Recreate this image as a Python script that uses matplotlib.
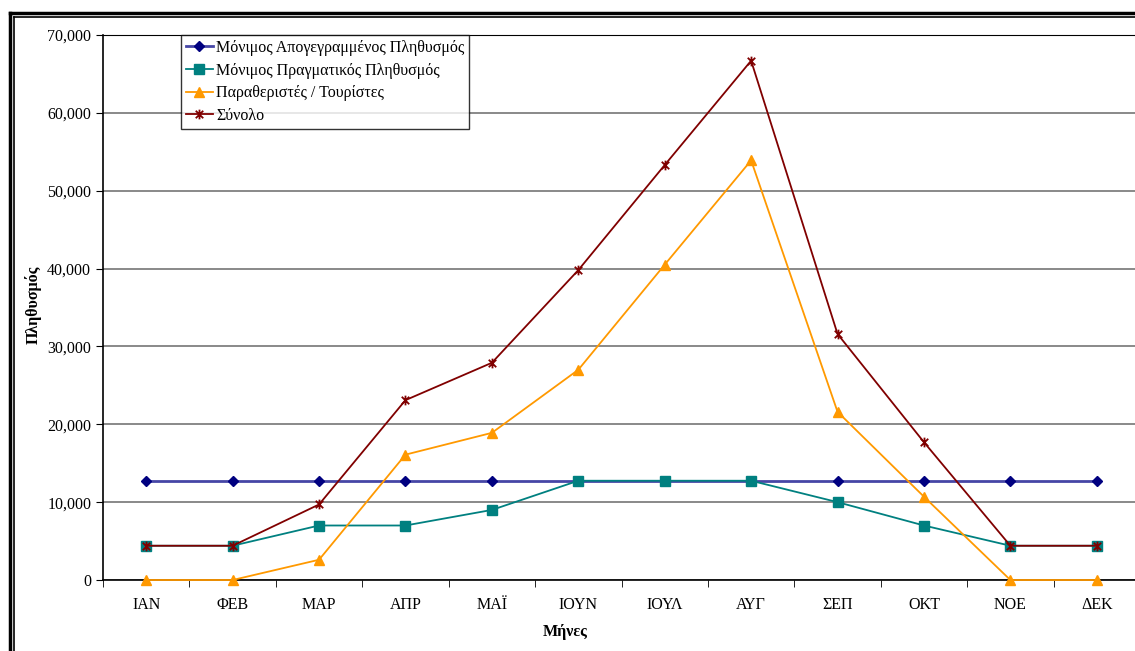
import numpy as np
import matplotlib
matplotlib.use('Agg')
import matplotlib.pyplot as plt
from matplotlib.path import Path
from matplotlib.lines import Line2D
from matplotlib.ticker import FuncFormatter, FixedLocator

plt.rcParams['font.family'] = ['Liberation Serif', 'DejaVu Serif']

# monthly population figures
months = ['ΙΑΝ', 'ΦΕΒ', 'ΜΑΡ', 'ΑΠΡ', 'ΜΑΪ', 'ΙΟΥΝ', 'ΙΟΥΛ', 'ΑΥΓ', 'ΣΕΠ', 'ΟΚΤ', 'ΝΟΕ', 'ΔΕΚ']
registered = [12750] * 12
actual = [4400, 4400, 7000, 7000, 9000, 12750, 12750, 12750, 10000, 7000, 4400, 4400]
visitors = [0, 0, 2600, 16100, 18900, 27000, 40500, 53900, 21600, 10700, 0, 0]
total = [4400, 4400, 9700, 23100, 27900, 39800, 53300, 66700, 31600, 17700, 4400, 4400]

names = ['Μόνιμος Απογεγραμμένος Πληθυσμός', 'Μόνιμος Πραγματικός Πληθυσμός',
         'Παραθεριστές / Τουρίστες', 'Σύνολο']

# Excel-style star: X with a vertical bar
star = Path([(-1, -1), (1, 1), (-1, 1), (1, -1), (0, -1.3), (0, 1.3)],
            [Path.MOVETO, Path.LINETO, Path.MOVETO, Path.LINETO, Path.MOVETO, Path.LINETO])

fig = plt.figure(figsize=(11.35, 6.51), dpi=100)
W, H = 1135, 651

# double frame around the chart
fig.add_artist(Line2D([10/W, 10/W], [0, 1-13/H], color='black', lw=2.5, transform=fig.transFigure))
fig.add_artist(Line2D([10/W, 1.01], [1-13/H, 1-13/H], color='black', lw=2.5, transform=fig.transFigure))
fig.add_artist(Line2D([14/W, 14/W], [0, 1-17/H], color='black', lw=1.2, transform=fig.transFigure))
fig.add_artist(Line2D([14/W, 1.01], [1-17/H, 1-17/H], color='black', lw=1.2, transform=fig.transFigure))

ax = fig.add_axes([103/W, (H-580)/H, (1140-103)/W, 545/H])
x = np.arange(len(months))

ax.plot(x, registered, color='#4646a6', lw=2, marker='D', ms=5.5,
        mfc='#000080', mec='#000080', label=names[0], zorder=3, clip_on=False)
ax.plot(x, actual, color='#008080', lw=1.3, marker='s', ms=6.5,
        mfc='#008080', mec='#008080', label=names[1], zorder=4, clip_on=False)
ax.plot(x, visitors, color='#FF9900', lw=1.3, marker='^', ms=7,
        mfc='#FF9900', mec='#FF9900', label=names[2], zorder=4, clip_on=False)
ax.plot(x, total, color='#800000', lw=1.3, marker=star, ms=7, mew=1.3,
        mfc='none', mec='#800000', label=names[3], zorder=5, clip_on=False)

ax.set_xlim(-0.5, len(months) - 0.5)
ax.set_ylim(0, 70000)
ax.yaxis.set_major_locator(FixedLocator(np.arange(0, 70001, 10000)))
ax.yaxis.set_major_formatter(FuncFormatter(lambda v, p: f'{int(v):,}'))
ax.yaxis.grid(True, color='#808080', lw=1.3)
ax.set_axisbelow(True)

ax.set_xticks(x)
ax.set_xticklabels(months, fontsize=11.5)
ax.set_xticks(np.arange(-0.5, len(months), 1), minor=True)
ax.tick_params(axis='x', which='major', length=0, pad=12)
ax.tick_params(axis='x', which='minor', length=5, direction='out', color='black')
ax.tick_params(axis='y', length=5, direction='out', labelsize=11.5)

ax.spines['right'].set_visible(False)
ax.spines['top'].set_color('black')
ax.spines['left'].set_linewidth(1.2)
ax.spines['bottom'].set_linewidth(1.2)

ax.set_xlabel('Μήνες', fontsize=11.5, fontweight='bold')
ax.xaxis.set_label_coords((565-103)/(1140-103), -(624-580)/545)
ax.set_ylabel('Πληθυσμός', fontsize=11.5, fontweight='bold')
ax.yaxis.set_label_coords(-(103-42)/(1140-103), (580-305)/545)

leg = ax.legend(loc='upper left', bbox_to_anchor=((181-103)/(1140-103), 1.0),
                fontsize=11.5, frameon=True, fancybox=False, edgecolor='black',
                borderpad=0.3, labelspacing=0.42, handlelength=1.7,
                handletextpad=0.2, borderaxespad=0)
leg.get_frame().set_linewidth(1.0)

fig.savefig('out.png', dpi=100)
